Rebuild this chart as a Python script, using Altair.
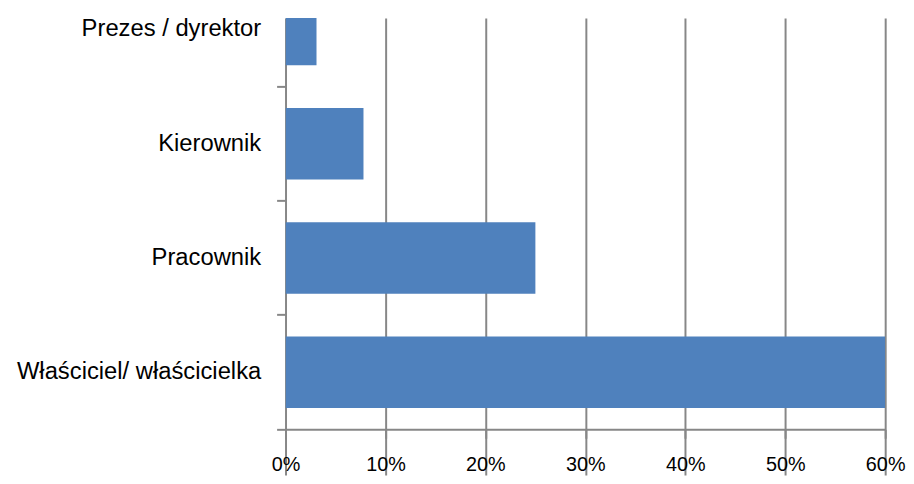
import altair as alt
import pandas as pd

categories = ["Prezes / dyrektor", "Kierownik", "Pracownik", "Właściciel/ właścicielka"]
shares = [0.031, 0.078, 0.25, 0.60]
x_ticks = [0, 0.1, 0.2, 0.3, 0.4, 0.5, 0.6]

df = pd.DataFrame({"kat": categories, "udzial": shares})

grey = "#878787"
font = "Liberation Sans"

chart = alt.Chart(df).mark_bar(
    color="#4F81BD", height=alt.RelativeBandSize(0.625), clip=True
).encode(
    y=alt.Y(
        "kat:N", sort=categories, title=None,
        scale=alt.Scale(range=[-46, 415], paddingInner=0, paddingOuter=0),
        axis=alt.Axis(
            domain=False, bandPosition=1, ticks=True, tickSize=9, tickWidth=2,
            tickColor=grey, labelFont=font, labelFontSize=24, labelColor="black",
            labelPadding=16, labelLimit=400, grid=False,
        ),
    ),
    x=alt.X(
        "udzial:Q", title=None,
        scale=alt.Scale(domain=[0, 0.6], nice=False, zero=True),
        axis=alt.Axis(
            values=x_ticks, format=".0%", grid=True, gridColor=grey, gridWidth=2,
            domainColor=grey, domainWidth=2, tickSize=9, tickWidth=2, tickColor=grey,
            labelFont=font, labelFontSize=20, labelPadding=17, labelColor="black",
            labelFlush=False,
        ),
    ),
).properties(
    width=605, height=415,
    autosize=alt.AutoSizeParams(type="none"),
    padding={"left": 280, "top": 8, "right": 21, "bottom": 45},
).configure_view(stroke=None)

chart.save("out.html", embed_options={"renderer": "svg", "actions": False})
